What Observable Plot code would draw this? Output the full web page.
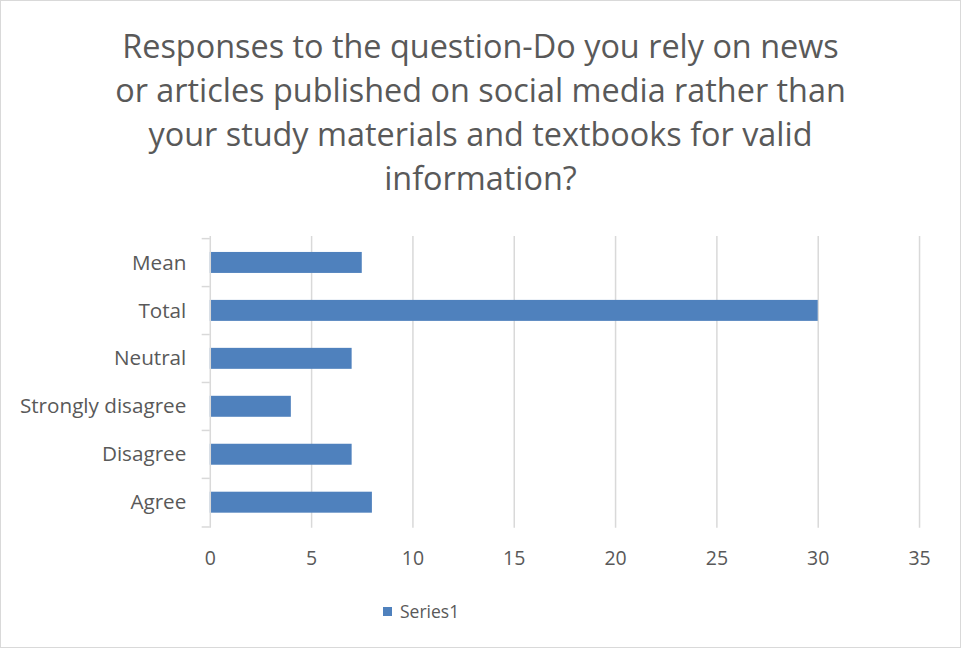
<!DOCTYPE html>
<html>
<head>
<meta charset="utf-8">
<script src="https://cdn.jsdelivr.net/npm/d3@7"></script>
<script src="https://cdn.jsdelivr.net/npm/@observablehq/plot@0.6"></script>
<style>
  html, body { margin: 0; padding: 0; background: #fff; }
  #chart { position: relative; width: 959px; height: 646px; border: 1px solid #d9d9d9; background: #fff; overflow: hidden; font-family: "Open Sans", sans-serif; }
  #title { position: absolute; left: 0; top: 22px; width: 959px; text-align: center; color: #595959; font-size: 32.4px; line-height: 44px; }
  #plot { position: absolute; left: -1px; top: 204px; }
  #legend { position: absolute; left: 382px; top: 598px; color: #595959; font-size: 17.5px; white-space: nowrap; }
  #legend .sw { display: inline-block; width: 9px; height: 9px; background: #4f81bd; margin-right: 8px; vertical-align: 2px; }
</style>
</head>
<body>
<div id="chart">
  <div id="title">Responses to the question-Do you rely on news<br>or articles published on social media rather than<br>your study materials and textbooks for valid<br>information?</div>
  <div id="plot"></div>
  <div id="legend"><span class="sw"></span>Series1</div>
</div>
<script>
const categories = ["Mean", "Total", "Neutral", "Strongly disagree", "Disagree", "Agree"];
const values = [7.5, 30, 7, 4, 7, 8];
const xTicks = [0, 5, 10, 15, 20, 25, 30, 35];
const seriesName = "Series1";

const data = categories.map((c, i) => ({category: c, value: values[i], series: seriesName}));

const plotHeight = 292;
const step = plotHeight / categories.length;

const chart = Plot.plot({
  width: 961,
  height: 372,
  marginTop: 31,
  marginBottom: 49,
  marginLeft: 210,
  marginRight: 41,
  style: {fontFamily: "Open Sans, sans-serif", color: "#595959", background: "transparent"},
  x: {domain: [0, 35], ticks: xTicks, label: null, grid: false},
  y: {domain: categories, label: null, paddingInner: 0.57, paddingOuter: 0.285},
  marks: [
    Plot.ruleX(xTicks.filter(t => t > 0), {stroke: "#d9d9d9", strokeWidth: 1.5, strokeOpacity: 1}),
    Plot.barX(data, {x: "value", y: "category", fill: "#4f81bd"}),
    Plot.ruleX([0], {stroke: "#d9d9d9", strokeWidth: 1.5, strokeOpacity: 1}),
    Plot.ruleY(categories, {y: d => d, x1: -0.4, x2: 0, dy: -step / 2, stroke: "#d9d9d9", strokeWidth: 1.5}),
    Plot.ruleY(categories.slice(-1), {y: d => d, x1: -0.4, x2: 0, dy: step / 2, stroke: "#d9d9d9", strokeWidth: 1.5}),
    Plot.axisX({ticks: xTicks, tickSize: 0, tickPadding: 23, fontSize: 19.5, label: null, tickFormat: d => String(d)}),
    Plot.axisY({tickSize: 0, tickPadding: 24, fontSize: 20.7, label: null})
  ]
});
document.getElementById("plot").appendChild(chart);
</script>
</body>
</html>
